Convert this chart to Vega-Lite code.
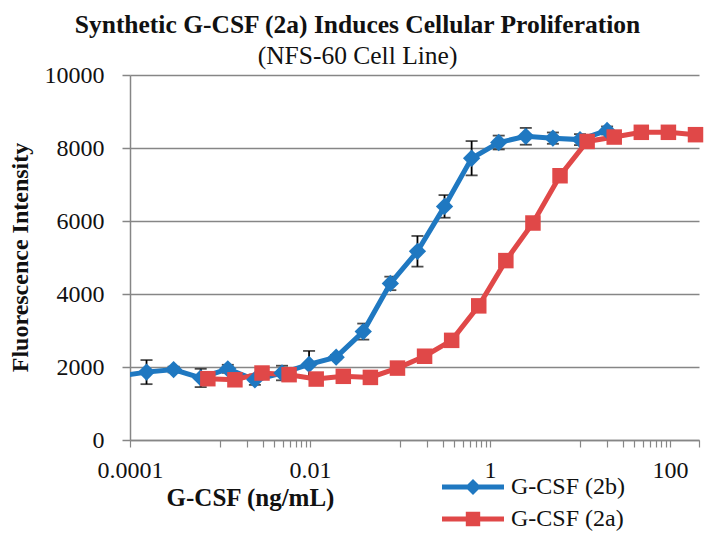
{
  "$schema": "https://vega.github.io/schema/vega-lite/v6.json",
  "width": 569,
  "height": 365,
  "autosize": {"type": "none"},
  "padding": {"left": 130, "top": 75, "right": 15, "bottom": 99},
  "background": "white",
  "config": {"view": {"stroke": null}, "font": "Liberation Serif"},
  "title": {
    "text": "Synthetic G-CSF (2a) Induces Cellular Proliferation",
    "subtitle": "(NFS-60 Cell Line)",
    "font": "Liberation Serif",
    "fontSize": 25.5,
    "fontWeight": "bold",
    "color": "#111111",
    "subtitleFont": "Liberation Serif",
    "subtitleFontSize": 25.5,
    "subtitleFontWeight": "normal",
    "subtitleColor": "#111111",
    "subtitlePadding": 5,
    "anchor": "middle",
    "frame": "group",
    "dx": -57,
    "offset": -6
  },
  "data": {
    "values": [
      {"series": "G-CSF (2b)", "conc": 0.0000763, "fi": 1750, "sd": null},
      {"series": "G-CSF (2b)", "conc": 0.0001526, "fi": 1860, "sd": 330},
      {"series": "G-CSF (2b)", "conc": 0.0003052, "fi": 1930, "sd": 80},
      {"series": "G-CSF (2b)", "conc": 0.0006104, "fi": 1700, "sd": 250},
      {"series": "G-CSF (2b)", "conc": 0.001221, "fi": 1950, "sd": 110},
      {"series": "G-CSF (2b)", "conc": 0.002441, "fi": 1650, "sd": 140},
      {"series": "G-CSF (2b)", "conc": 0.004883, "fi": 1835, "sd": 200},
      {"series": "G-CSF (2b)", "conc": 0.009766, "fi": 2070, "sd": 370},
      {"series": "G-CSF (2b)", "conc": 0.01953, "fi": 2270, "sd": 60},
      {"series": "G-CSF (2b)", "conc": 0.03906, "fi": 2970, "sd": 220},
      {"series": "G-CSF (2b)", "conc": 0.07813, "fi": 4290, "sd": 185},
      {"series": "G-CSF (2b)", "conc": 0.1563, "fi": 5170, "sd": 420},
      {"series": "G-CSF (2b)", "conc": 0.3125, "fi": 6400, "sd": 310},
      {"series": "G-CSF (2b)", "conc": 0.625, "fi": 7720, "sd": 470},
      {"series": "G-CSF (2b)", "conc": 1.25, "fi": 8150, "sd": 190},
      {"series": "G-CSF (2b)", "conc": 2.5, "fi": 8320, "sd": 230},
      {"series": "G-CSF (2b)", "conc": 5, "fi": 8270, "sd": 155},
      {"series": "G-CSF (2b)", "conc": 10, "fi": 8230, "sd": 150},
      {"series": "G-CSF (2b)", "conc": 20, "fi": 8480, "sd": 110},
      {"series": "G-CSF (2a)", "conc": 0.0007324, "fi": 1680, "sd": null},
      {"series": "G-CSF (2a)", "conc": 0.001465, "fi": 1650, "sd": null},
      {"series": "G-CSF (2a)", "conc": 0.00293, "fi": 1835, "sd": null},
      {"series": "G-CSF (2a)", "conc": 0.005859, "fi": 1790, "sd": null},
      {"series": "G-CSF (2a)", "conc": 0.01172, "fi": 1670, "sd": null},
      {"series": "G-CSF (2a)", "conc": 0.02344, "fi": 1745, "sd": null},
      {"series": "G-CSF (2a)", "conc": 0.04688, "fi": 1715, "sd": null},
      {"series": "G-CSF (2a)", "conc": 0.09375, "fi": 1970, "sd": null},
      {"series": "G-CSF (2a)", "conc": 0.1875, "fi": 2295, "sd": null},
      {"series": "G-CSF (2a)", "conc": 0.375, "fi": 2730, "sd": null},
      {"series": "G-CSF (2a)", "conc": 0.75, "fi": 3675, "sd": null},
      {"series": "G-CSF (2a)", "conc": 1.5, "fi": 4915, "sd": null},
      {"series": "G-CSF (2a)", "conc": 3, "fi": 5945, "sd": null},
      {"series": "G-CSF (2a)", "conc": 6, "fi": 7240, "sd": null},
      {"series": "G-CSF (2a)", "conc": 12, "fi": 8180, "sd": null},
      {"series": "G-CSF (2a)", "conc": 24, "fi": 8300, "sd": null},
      {"series": "G-CSF (2a)", "conc": 48, "fi": 8430, "sd": null},
      {"series": "G-CSF (2a)", "conc": 96, "fi": 8430, "sd": null},
      {"series": "G-CSF (2a)", "conc": 192, "fi": 8365, "sd": null}
    ]
  },
  "encoding": {
    "x": {
      "field": "conc",
      "type": "quantitative",
      "scale": {"type": "log", "domain": [0.0001, 210], "nice": false},
      "axis": {
        "title": "G-CSF (ng/mL)",
        "titleFont": "Liberation Serif",
        "titleFontSize": 25,
        "titleFontWeight": "bold",
        "titleColor": "#111111",
        "titleX": 120,
        "titleY": 65,
        "titleAlign": "center",
        "titleBaseline": "alphabetic",
        "values": [0.0001, 0.001, 0.002, 0.003, 0.004, 0.005, 0.006, 0.007, 0.008, 0.009, 0.01, 0.1, 0.2, 0.3, 0.4, 0.5, 0.6, 0.7, 0.8, 0.9, 1, 10, 20, 30, 40, 50, 60, 70, 80, 90, 100, 210],
        "labelExpr": "datum.value == 0.0001 ? '0.0001' : datum.value == 0.01 ? '0.01' : datum.value == 1 ? '1' : datum.value == 100 ? '100' : ''",
        "labelFont": "Liberation Serif",
        "labelFontSize": 24,
        "labelColor": "#111111",
        "labelPadding": 11,
        "labelOverlap": false,
        "labelBound": false,
        "labelFlush": false,
        "grid": false,
        "domainColor": "#868686",
        "domainWidth": 1.5,
        "tickColor": "#868686",
        "tickWidth": 1.2,
        "tickSize": 7
      }
    },
    "y": {
      "field": "fi",
      "type": "quantitative",
      "scale": {"domain": [0, 10000], "nice": false},
      "axis": {
        "title": "Fluorescence Intensity",
        "titleFont": "Liberation Serif",
        "titleFontSize": 24,
        "titleFontWeight": "bold",
        "titleColor": "#111111",
        "titleAngle": 270,
        "titleX": -110,
        "titleY": 182,
        "titleAlign": "center",
        "titleBaseline": "middle",
        "values": [0, 2000, 4000, 6000, 8000, 10000],
        "format": "d",
        "labelFont": "Liberation Serif",
        "labelFontSize": 24,
        "labelColor": "#111111",
        "labelPadding": 18,
        "grid": true,
        "gridColor": "#868686",
        "gridWidth": 1.5,
        "domainColor": "#868686",
        "domainWidth": 1.5,
        "tickColor": "#868686",
        "tickWidth": 1.5,
        "tickSize": 8
      }
    }
  },
  "layer": [
    {
      "mark": {"type": "point", "filled": true, "size": 0},
      "encoding": {
        "color": {
          "field": "series",
          "type": "nominal",
          "scale": {"domain": ["G-CSF (2b)", "G-CSF (2a)"], "range": ["#1f78c1", "#e04848"]},
          "legend": {
            "orient": "none",
            "legendX": 331,
            "legendY": 400,
            "title": null,
            "padding": 0,
            "symbolSize": 400,
            "symbolStrokeWidth": 0,
            "symbolOpacity": 1,
            "labelFont": "Liberation Serif",
            "labelFontSize": 24,
            "labelColor": "#111111",
            "labelOffset": 26,
            "rowPadding": 8
          }
        },
        "shape": {
          "field": "series",
          "type": "nominal",
          "scale": {
            "domain": ["G-CSF (2b)", "G-CSF (2a)"],
            "range": [
              "M-3.1,-0.25H3.1V0.25H-3.1Z M0,-0.8L0.8,0L0,0.8L-0.8,0Z",
              "M-3.1,-0.25H3.1V0.25H-3.1Z M-0.72,-0.72H0.72V0.72H-0.72Z"
            ]
          },
          "legend": {
            "orient": "none",
            "legendX": 331,
            "legendY": 400,
            "title": null,
            "padding": 0,
            "symbolSize": 400,
            "symbolStrokeWidth": 0,
            "symbolOpacity": 1,
            "labelFont": "Liberation Serif",
            "labelFontSize": 24,
            "labelColor": "#111111",
            "labelOffset": 26,
            "rowPadding": 8
          }
        }
      }
    },
    {
      "transform": [{"filter": "datum.sd != null"}],
      "mark": {
        "type": "errorbar",
        "ticks": {"size": 12, "color": "black", "thickness": 1.8},
        "rule": {"color": "black", "strokeWidth": 1.8}
      },
      "encoding": {
        "y": {"field": "fi", "type": "quantitative"},
        "yError": {"field": "sd"}
      }
    },
    {
      "mark": {"type": "line", "strokeWidth": 5, "clip": true},
      "encoding": {
        "color": {"field": "series", "type": "nominal", "legend": null}
      }
    },
    {
      "transform": [{"filter": "datum.conc >= 0.0001 && datum.series == 'G-CSF (2b)'"}],
      "mark": {"type": "point", "shape": "diamond", "filled": true, "opacity": 1, "size": 300},
      "encoding": {
        "color": {"field": "series", "type": "nominal", "legend": null}
      }
    },
    {
      "transform": [{"filter": "datum.series == 'G-CSF (2a)'"}],
      "mark": {"type": "point", "shape": "square", "filled": true, "opacity": 1, "size": 240},
      "encoding": {
        "color": {"field": "series", "type": "nominal", "legend": null}
      }
    }
  ]
}
